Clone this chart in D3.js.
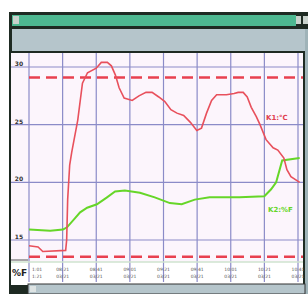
<!DOCTYPE html>
<html>
<head>
<meta charset="utf-8">
<script src="https://cdn.jsdelivr.net/npm/d3@7"></script>
<style>
  body { margin: 0; background: #fff; }
  svg { display: block; font-family: "DejaVu Sans", sans-serif; }
</style>
</head>
<body>
<div id="chart"></div>
<script>
// time index (grid columns) and values
const redT = [0, 0.27, 0.41, 1.09, 1.12, 1.15, 1.21, 1.27, 1.45, 1.59, 1.74, 2.0, 2.15, 2.33, 2.45, 2.57, 2.68, 2.83, 3.07, 3.27, 3.48, 3.66, 3.86, 4.04, 4.22, 4.4, 4.6, 4.8, 4.99, 5.13, 5.28, 5.43, 5.58, 5.87, 6.1, 6.22, 6.37, 6.49, 6.61, 6.76, 6.87, 7.05, 7.26, 7.4, 7.58, 7.67, 7.79, 8.05];
const redV = [14.5, 14.4, 14.0, 14.1, 15.0, 18.5, 21.5, 22.6, 25.4, 28.6, 29.5, 29.9, 30.4, 30.4, 30.1, 29.3, 28.2, 27.3, 27.1, 27.5, 27.8, 27.8, 27.4, 27.0, 26.3, 26.0, 25.8, 25.2, 24.5, 24.7, 26.0, 27.1, 27.6, 27.6, 27.7, 27.8, 27.8, 27.4, 26.5, 25.7, 25.0, 23.7, 23.0, 22.8, 22.1, 21.1, 20.5, 20.0];
const greenT = [0, 0.63, 1.01, 1.13, 1.37, 1.52, 1.73, 2.02, 2.32, 2.56, 2.85, 3.3, 3.74, 4.19, 4.54, 4.93, 5.37, 6.26, 7.0, 7.2, 7.35, 7.53, 8.05];
const greenV = [15.9, 15.8, 15.9, 16.1, 16.9, 17.4, 17.8, 18.1, 18.7, 19.2, 19.3, 19.1, 18.7, 18.2, 18.1, 18.5, 18.7, 18.7, 18.8, 19.4, 20.0, 21.9, 22.1];
const limitHigh = 29.1;
const limitLow = 13.55;
const yTicks = [15, 20, 25, 30];
const xTicks = [0, 1, 2, 3, 4, 5, 6, 7, 8];
const xLabelsTop = ["1:01", "08:21", "08:41", "09:01", "09:21", "09:41", "10:01", "10:21", "10:41"];
const xLabelsBottom = ["1:21", "03/21", "03/21", "03/21", "03/21", "03/21", "03/21", "03/21", "03/21"];

const W = 308, H = 294;
const plot = { left: 28, right: 303, top: 53, bottom: 262 };

const svg = d3.select("#chart").append("svg")
    .attr("width", W)
    .attr("height", H);

// window chrome
svg.append("rect").attr("x", 9).attr("y", 12).attr("width", 299).attr("height", 282).attr("fill", "#1e2a22");
svg.append("rect").attr("x", 12).attr("y", 15).attr("width", 284).attr("height", 11).attr("fill", "#4db890");
svg.append("rect").attr("x", 13).attr("y", 16).attr("width", 6).attr("height", 8).attr("fill", "#c9d2cc");
svg.append("rect").attr("x", 296).attr("y", 16).attr("width", 5).attr("height", 8).attr("fill", "#c9d2cc");
svg.append("rect").attr("x", 303).attr("y", 16).attr("width", 5).attr("height", 8).attr("fill", "#c9d2cc");
svg.append("rect").attr("x", 12).attr("y", 29).attr("width", 293).attr("height", 22).attr("fill", "#b5c5cb");
svg.append("rect").attr("x", 305).attr("y", 29).attr("width", 3).attr("height", 265).attr("fill", "#9fb3b8");

// chart body
svg.append("rect").attr("x", 11).attr("y", plot.top).attr("width", plot.right - 11).attr("height", 232).attr("fill", "#fff");
svg.append("rect").attr("x", 11).attr("y", plot.top).attr("width", plot.right - 11).attr("height", plot.bottom - plot.top).attr("fill", "#fcf5fc");

const x = d3.scaleLinear().domain([0, 8]).range([29, 298]);
const y = d3.scaleLinear().domain([15, 30]).range([240, 67]);

// grid
svg.append("g").selectAll("line").data(xTicks).join("line")
    .attr("x1", d => x(d)).attr("x2", d => x(d))
    .attr("y1", plot.top).attr("y2", plot.bottom + 20)
    .attr("stroke", "#8b8bc8").attr("stroke-width", 1.2);
svg.append("g").selectAll("line").data(yTicks).join("line")
    .attr("x1", 11).attr("x2", plot.right)
    .attr("y1", d => y(d)).attr("y2", d => y(d))
    .attr("stroke", "#8b8bc8").attr("stroke-width", 1.2);

svg.append("line").attr("x1", 11).attr("x2", plot.right).attr("y1", plot.bottom).attr("y2", plot.bottom)
    .attr("stroke", "#cfe3cf").attr("stroke-width", 1.5);
svg.append("line").attr("x1", 11).attr("x2", 28).attr("y1", 260).attr("y2", 260)
    .attr("stroke", "#555").attr("stroke-width", 1);

// y labels
svg.append("g").selectAll("text").data(yTicks).join("text")
    .attr("x", 19).attr("y", d => y(d) - 1)
    .attr("text-anchor", "middle")
    .attr("font-size", 6).attr("font-weight", "bold").attr("fill", "#333")
    .text(d => d);

// limit lines
[limitHigh, limitLow].forEach(v => {
    svg.append("line")
        .attr("x1", 29).attr("x2", plot.right)
        .attr("y1", y(v)).attr("y2", y(v))
        .attr("stroke", "#e8404f").attr("stroke-width", 2.5)
        .attr("stroke-dasharray", "11,6");
});

const line = d3.line().x(d => x(d[0])).y(d => y(d[1]));

svg.append("path")
    .datum(greenT.map((t, i) => [t, greenV[i]]))
    .attr("d", line)
    .attr("fill", "none").attr("stroke", "#66d628").attr("stroke-width", 2);

svg.append("path")
    .datum(redT.map((t, i) => [t, redV[i]]))
    .attr("d", line)
    .attr("fill", "none").attr("stroke", "#e8505c").attr("stroke-width", 1.6);

svg.append("text").attr("x", 266).attr("y", 120)
    .attr("font-size", 7).attr("font-weight", "bold").attr("fill", "#e0404f").text("K1:°C");
svg.append("text").attr("x", 268).attr("y", 212)
    .attr("font-size", 7).attr("font-weight", "bold").attr("fill", "#66d628").text("K2:%F");

// x labels
svg.append("text").attr("x", 12).attr("y", 276)
    .attr("font-size", 9).attr("font-weight", "bold").attr("fill", "#222").text("%F");
const xl = svg.append("g").attr("font-size", 4.5).attr("fill", "#555");
xl.selectAll("text.top").data(xTicks).join("text").attr("class", "top")
    .attr("x", (d, i) => i === 0 ? x(d) + 3 : x(d))
    .attr("y", 271).attr("text-anchor", (d, i) => i === 0 ? "start" : "middle")
    .text((d, i) => xLabelsTop[i]);
xl.selectAll("text.bot").data(xTicks).join("text").attr("class", "bot")
    .attr("x", (d, i) => i === 0 ? x(d) + 3 : x(d))
    .attr("y", 278).attr("text-anchor", (d, i) => i === 0 ? "start" : "middle")
    .text((d, i) => xLabelsBottom[i]);

// scrollbar
svg.append("rect").attr("x", 28).attr("y", 284).attr("width", 277).attr("height", 10).attr("fill", "#b5c5cb")
    .attr("stroke", "#333").attr("stroke-width", 1);
svg.append("rect").attr("x", 30).attr("y", 286).attr("width", 6).attr("height", 6).attr("fill", "#dde3e3");
</script>
</body>
</html>
